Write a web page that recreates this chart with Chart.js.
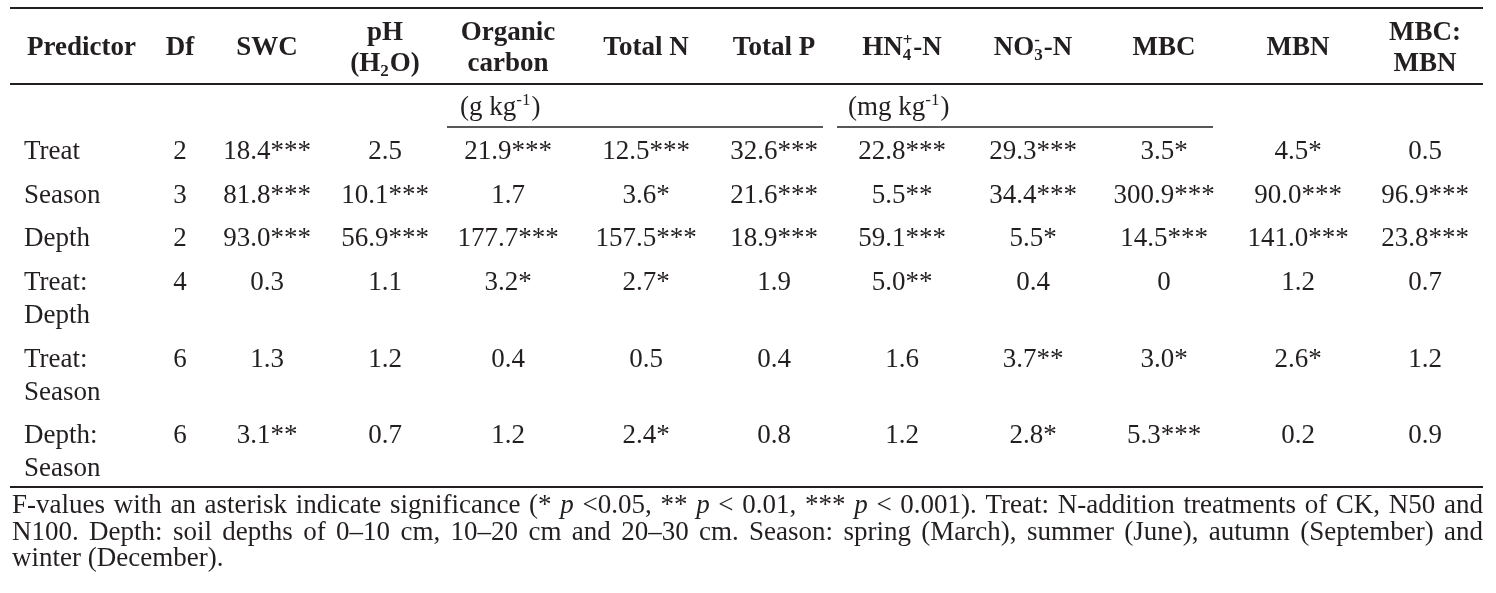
<!DOCTYPE html>
<html lang="en">
<head>
  <meta charset="UTF-8">
  <title>F-values of soil properties</title>
  <script src="https://cdn.jsdelivr.net/npm/chart.js"></script>
  <style>
    html, body { margin: 0; padding: 0; background: #fff; }
    #wrap { width: 1496px; height: 593px; position: relative; }
  </style>
</head>
<body>
  <div id="wrap"><canvas id="tableChart"></canvas></div>

  <script>
    // Row labels (one entry per printed line) and degrees of freedom
    const predictors = [['Treat'], ['Season'], ['Depth'], ['Treat:', 'Depth'], ['Treat:', 'Season'], ['Depth:', 'Season']];
    const df = [2, 3, 2, 4, 6, 6];

    // F-values per variable, and the number of asterisks for each
    const swc       = [18.4, 81.8, 93.0, 0.3, 1.3, 3.1];
    const swcSig    = [3, 3, 3, 0, 0, 2];
    const ph        = [2.5, 10.1, 56.9, 1.1, 1.2, 0.7];
    const phSig     = [0, 3, 3, 0, 0, 0];
    const orgC      = [21.9, 1.7, 177.7, 3.2, 0.4, 1.2];
    const orgCSig   = [3, 0, 3, 1, 0, 0];
    const totalN    = [12.5, 3.6, 157.5, 2.7, 0.5, 2.4];
    const totalNSig = [3, 1, 3, 1, 0, 1];
    const totalP    = [32.6, 21.6, 18.9, 1.9, 0.4, 0.8];
    const totalPSig = [3, 3, 3, 0, 0, 0];
    const nh4       = [22.8, 5.5, 59.1, 5.0, 1.6, 1.2];
    const nh4Sig    = [3, 2, 3, 2, 0, 0];
    const no3       = [29.3, 34.4, 5.5, 0.4, 3.7, 2.8];
    const no3Sig    = [3, 3, 1, 0, 2, 1];
    const mbc       = [3.5, 300.9, 14.5, 0, 3.0, 5.3];
    const mbcSig    = [1, 3, 3, 0, 1, 3];
    const mbn       = [4.5, 90.0, 141.0, 1.2, 2.6, 0.2];
    const mbnSig    = [1, 3, 3, 0, 1, 0];
    const ratio     = [0.5, 96.9, 23.8, 0.7, 1.2, 0.9];
    const ratioSig  = [0, 3, 3, 0, 0, 0];

    const valueCols = [swc, ph, orgC, totalN, totalP, nh4, no3, mbc, mbn, ratio];
    const sigCols = [swcSig, phSig, orgCSig, totalNSig, totalPSig, nh4Sig, no3Sig, mbcSig, mbnSig, ratioSig];

    // Column headings: each line is a list of pieces (plain, or stacked sub/sup)
    const headers = [
      [[{ t: 'Predictor' }]],
      [[{ t: 'Df' }]],
      [[{ t: 'SWC' }]],
      [[{ t: 'pH' }], [{ t: '(H' }, { sub: '2' }, { t: 'O)' }]],
      [[{ t: 'Organic' }], [{ t: 'carbon' }]],
      [[{ t: 'Total N' }]],
      [[{ t: 'Total P' }]],
      [[{ t: 'HN' }, { sub: '4', sup: '+' }, { t: '-N' }]],
      [[{ t: 'NO' }, { sub: '3', sup: '-' }, { t: '-N' }]],
      [[{ t: 'MBC' }]],
      [[{ t: 'MBN' }]],
      [[{ t: 'MBC:' }], [{ t: 'MBN' }]]
    ];
    const units = [
      [{ t: '(g kg' }, { sup: '-1' }, { t: ')' }],
      [{ t: '(mg kg' }, { sup: '-1' }, { t: ')' }]
    ];

    const footnote = [
      'F-values with an asterisk indicate significance (* p <0.05, ** p < 0.01, *** p < 0.001). Treat: N-addition treatments of CK, N50 and',
      'N100. Depth: soil depths of 0\u201310 cm, 10\u201320 cm and 20\u201330 cm. Season: spring (March), summer (June), autumn (September) and',
      'winter (December).'
    ];

    // ---- layout (in the scale's units, which match the page size) ----
    const W = 1496, H = 593;
    const colX = [27, 180, 267, 385, 508, 646, 774, 902, 1033, 1164, 1298, 1425];
    const headY1 = 46, headY2 = [31, 62];
    const unitY = 106, unitX = [460, 848];
    const unitRules = [[447, 823], [837, 1213]];
    const ruleLeft = 10, ruleRight = 1483;
    const topRule = 8, headRule = 84, unitRule = 127, bottomRule = 487;
    const firstRowY = 150, rowStep = 43.7, innerStep = 33;
    const noteX = 12, noteY = [513, 540, 566];
    const FS = 27;
    const INK = '#231f20';

    function fmt(v, s) {
      return (v === 0 ? '0' : v.toFixed(1)) + '*'.repeat(s);
    }

    // row centre of every printed line
    const rowY = [];
    let yy = firstRowY;
    predictors.forEach(function (lines) {
      rowY.push(yy);
      yy += rowStep + innerStep * (lines.length - 1);
    });

    // points for the chart, one per piece of text
    const cellPts = [];
    predictors.forEach(function (lines, r) {
      lines.forEach(function (txt, k) {
        cellPts.push({ x: colX[0] - 3, y: rowY[r] + k * innerStep, text: txt, align: 'left' });
      });
      cellPts.push({ x: colX[1], y: rowY[r], text: String(df[r]), align: 'center' });
      valueCols.forEach(function (col, c) {
        cellPts.push({ x: colX[c + 2], y: rowY[r], text: fmt(col[r], sigCols[c][r]), align: 'center' });
      });
    });

    const headPts = [];
    headers.forEach(function (lines, c) {
      lines.forEach(function (segs, k) {
        headPts.push({
          x: colX[c], y: lines.length === 1 ? headY1 : headY2[k],
          segs: segs, align: c === 0 ? 'left' : 'center'
        });
      });
    });
    const unitPts = units.map(function (segs, i) {
      return { x: unitX[i], y: unitY, segs: segs, align: 'left' };
    });

    function font(size, bold, italic) {
      return (italic ? 'italic ' : '') + (bold ? 'bold ' : '') + size + 'px "Liberation Serif", "Times New Roman", serif';
    }

    function segWidth(ctx, seg, size, bold) {
      if (seg.t !== undefined) {
        ctx.font = font(size, bold);
        return ctx.measureText(seg.t).width;
      }
      ctx.font = font(Math.round(size * 0.62), bold);
      const a = seg.sub ? ctx.measureText(seg.sub).width : 0;
      const b = seg.sup ? ctx.measureText(seg.sup).width : 0;
      return Math.max(a, b) + 1;
    }

    function drawRich(ctx, segs, x, yc, align, size, bold) {
      const widths = segs.map(function (s) { return segWidth(ctx, s, size, bold); });
      const total = widths.reduce(function (a, b) { return a + b; }, 0);
      let cx = align === 'center' ? x - total / 2 : x;
      const base = yc + size * 0.33;
      ctx.textAlign = 'left';
      ctx.textBaseline = 'alphabetic';
      segs.forEach(function (s, i) {
        if (s.t !== undefined) {
          ctx.font = font(size, bold);
          ctx.fillText(s.t, cx, base);
        } else {
          ctx.font = font(Math.round(size * 0.62), bold);
          if (s.sub) ctx.fillText(s.sub, cx, base + size * 0.2);
          if (s.sup) ctx.fillText(s.sup, cx, base - size * 0.36);
        }
        cx += widths[i];
      });
    }

    function drawJustified(ctx, text, x0, x1, base, size, justify) {
      const words = text.split(' ');
      const widths = words.map(function (w) {
        ctx.font = font(size, false, w === 'p');
        return ctx.measureText(w).width;
      });
      ctx.font = font(size);
      const space = ctx.measureText(' ').width;
      const sum = widths.reduce(function (a, b) { return a + b; }, 0);
      const gap = justify ? Math.max(2, (x1 - x0 - sum) / (words.length - 1)) : space;
      let cx = x0;
      ctx.textAlign = 'left';
      ctx.textBaseline = 'alphabetic';
      words.forEach(function (w, i) {
        ctx.font = font(size, false, w === 'p');
        ctx.fillText(w, cx, base);
        cx += widths[i] + gap;
      });
    }

    const tablePlugin = {
      id: 'tablePlugin',
      afterDatasetsDraw: function (chart) {
        const ctx = chart.ctx;
        const xs = chart.scales.x, ys = chart.scales.y;
        ctx.save();
        ctx.fillStyle = INK;
        ctx.strokeStyle = INK;

        // rules
        function hline(a, b, y, w) {
          ctx.lineWidth = w;
          ctx.beginPath();
          ctx.moveTo(xs.getPixelForValue(a), ys.getPixelForValue(y));
          ctx.lineTo(xs.getPixelForValue(b), ys.getPixelForValue(y));
          ctx.stroke();
        }
        hline(ruleLeft, ruleRight, topRule, 2);
        hline(ruleLeft, ruleRight, headRule, 2);
        unitRules.forEach(function (r) { hline(r[0], r[1], unitRule, 1.6); });
        hline(ruleLeft, ruleRight, bottomRule, 2);

        // headings
        const hMeta = chart.getDatasetMeta(0);
        chart.data.datasets[0].data.forEach(function (p, i) {
          const el = hMeta.data[i];
          drawRich(ctx, p.segs, el.x, el.y, p.align, FS, true);
        });
        // units
        const uMeta = chart.getDatasetMeta(1);
        chart.data.datasets[1].data.forEach(function (p, i) {
          const el = uMeta.data[i];
          drawRich(ctx, p.segs, el.x, el.y, p.align, FS, false);
        });
        // cells
        const cMeta = chart.getDatasetMeta(2);
        ctx.font = font(FS);
        ctx.textBaseline = 'alphabetic';
        chart.data.datasets[2].data.forEach(function (p, i) {
          const el = cMeta.data[i];
          ctx.textAlign = p.align;
          ctx.font = font(FS);
          ctx.fillText(p.text, el.x, el.y + FS * 0.33);
        });

        // footnote
        footnote.forEach(function (line, i) {
          drawJustified(ctx, line, xs.getPixelForValue(noteX), xs.getPixelForValue(ruleRight),
            ys.getPixelForValue(noteY[i]), FS, i < footnote.length - 1);
        });
        ctx.restore();
      }
    };

    const ctx = document.getElementById('tableChart').getContext('2d');
    const tableChart = new Chart(ctx, {
      type: 'scatter',
      data: {
        datasets: [
          { label: 'headers', data: headPts, pointRadius: 0 },
          { label: 'units', data: unitPts, pointRadius: 0 },
          { label: 'cells', data: cellPts, pointRadius: 0 }
        ]
      },
      options: {
        responsive: true,
        maintainAspectRatio: false,
        animation: false,
        layout: { padding: 0 },
        scales: {
          x: { type: 'linear', min: 0, max: W, display: false },
          y: { type: 'linear', min: 0, max: H, reverse: true, display: false }
        },
        plugins: {
          legend: { display: false },
          tooltip: { enabled: false }
        },
        events: []
      },
      plugins: [tablePlugin]
    });
  </script>
</body>
</html>
